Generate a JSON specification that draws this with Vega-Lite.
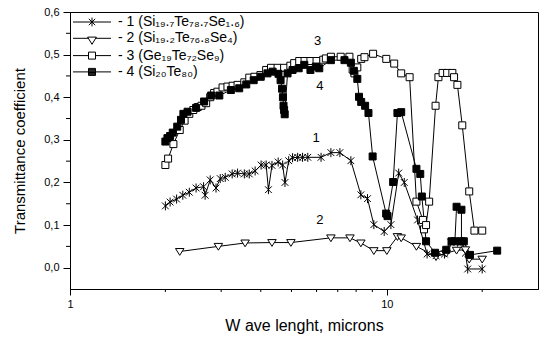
{
  "$schema": "https://vega.github.io/schema/vega-lite/v6.json",
  "width": 468,
  "height": 277,
  "autosize": "none",
  "padding": {"left": 70, "top": 12, "right": 1, "bottom": 49},
  "background": "white",
  "config": {
    "view": {"stroke": "black", "strokeWidth": 1},
    "font": "Liberation Sans",
    "axis": {"domainColor": "black", "tickColor": "black", "labelColor": "black", "titleColor": "black", "grid": false, "labelFont": "Liberation Sans", "titleFont": "Liberation Sans", "titleFontWeight": "normal", "domainWidth": 1, "tickWidth": 1}
  },
  "resolve": {"scale": {"shape": "independent"}, "legend": {"shape": "independent"}},
  "datasets": {
    "pts": [
      {"s":"1","i":0,"x":2.0,"y":0.145},{"s":"1","i":1,"x":2.07,"y":0.154},{"s":"1","i":2,"x":2.17,"y":0.161},{"s":"1","i":3,"x":2.27,"y":0.17},{"s":"1","i":4,"x":2.38,"y":0.177},{"s":"1","i":5,"x":2.5,"y":0.187},{"s":"1","i":6,"x":2.64,"y":0.19},{"s":"1","i":7,"x":2.67,"y":0.17},{"s":"1","i":8,"x":2.77,"y":0.206},{"s":"1","i":9,"x":2.89,"y":0.187},{"s":"1","i":10,"x":2.98,"y":0.209},{"s":"1","i":11,"x":3.09,"y":0.212},{"s":"1","i":12,"x":3.25,"y":0.22},{"s":"1","i":13,"x":3.38,"y":0.222},{"s":"1","i":14,"x":3.55,"y":0.22},{"s":"1","i":15,"x":3.68,"y":0.22},{"s":"1","i":16,"x":3.84,"y":0.227},{"s":"1","i":17,"x":4.01,"y":0.241},{"s":"1","i":18,"x":4.16,"y":0.241},{"s":"1","i":19,"x":4.23,"y":0.183},{"s":"1","i":20,"x":4.34,"y":0.24},{"s":"1","i":21,"x":4.54,"y":0.248},{"s":"1","i":22,"x":4.69,"y":0.241},{"s":"1","i":23,"x":4.77,"y":0.2},{"s":"1","i":24,"x":4.9,"y":0.251},{"s":"1","i":25,"x":5.04,"y":0.258},{"s":"1","i":26,"x":5.23,"y":0.259},{"s":"1","i":27,"x":5.42,"y":0.259},{"s":"1","i":28,"x":5.63,"y":0.259},{"s":"1","i":29,"x":6.2,"y":0.259},{"s":"1","i":30,"x":6.66,"y":0.27},{"s":"1","i":31,"x":7.11,"y":0.27},{"s":"1","i":32,"x":7.7,"y":0.251},{"s":"1","i":33,"x":8.28,"y":0.171},{"s":"1","i":34,"x":8.69,"y":0.162},{"s":"1","i":35,"x":9.1,"y":0.101},{"s":"1","i":36,"x":9.81,"y":0.085},{"s":"1","i":37,"x":10.3,"y":0.101},{"s":"1","i":38,"x":10.9,"y":0.222},{"s":"1","i":39,"x":11.35,"y":0.2},{"s":"1","i":40,"x":12.5,"y":0.112},{"s":"1","i":41,"x":13.4,"y":0.032},{"s":"1","i":42,"x":14.3,"y":0.028},{"s":"1","i":43,"x":15.2,"y":0.032},{"s":"1","i":44,"x":15.9,"y":0.06},{"s":"1","i":45,"x":16.7,"y":0.06},{"s":"1","i":46,"x":17.3,"y":0.06},{"s":"1","i":47,"x":17.7,"y":0.034},{"s":"1","i":48,"x":18.0,"y":-0.003},{"s":"1","i":49,"x":20.0,"y":-0.003},
      {"s":"2","i":0,"x":2.22,"y":0.038},{"s":"2","i":1,"x":2.94,"y":0.05},{"s":"2","i":2,"x":3.57,"y":0.058},{"s":"2","i":3,"x":4.34,"y":0.059},{"s":"2","i":4,"x":4.98,"y":0.059},{"s":"2","i":5,"x":6.66,"y":0.07},{"s":"2","i":6,"x":7.65,"y":0.07},{"s":"2","i":7,"x":8.28,"y":0.058},{"s":"2","i":8,"x":9.1,"y":0.04},{"s":"2","i":9,"x":10.0,"y":0.04},{"s":"2","i":10,"x":10.8,"y":0.073},{"s":"2","i":11,"x":11.1,"y":0.07},{"s":"2","i":12,"x":12.4,"y":0.05},{"s":"2","i":13,"x":14.3,"y":0.026},{"s":"2","i":14,"x":15.4,"y":0.034},{"s":"2","i":15,"x":16.6,"y":0.041},{"s":"2","i":16,"x":17.7,"y":0.042},{"s":"2","i":17,"x":18.2,"y":0.02},{"s":"2","i":18,"x":20.0,"y":0.02},
      {"s":"3","i":0,"x":2.0,"y":0.241},{"s":"3","i":1,"x":2.04,"y":0.256},{"s":"3","i":2,"x":2.12,"y":0.29},{"s":"3","i":3,"x":2.22,"y":0.323},{"s":"3","i":4,"x":2.3,"y":0.345},{"s":"3","i":5,"x":2.38,"y":0.361},{"s":"3","i":6,"x":2.45,"y":0.37},{"s":"3","i":7,"x":2.53,"y":0.377},{"s":"3","i":8,"x":2.6,"y":0.38},{"s":"3","i":9,"x":2.69,"y":0.386},{"s":"3","i":10,"x":2.77,"y":0.4},{"s":"3","i":11,"x":2.85,"y":0.41},{"s":"3","i":12,"x":2.92,"y":0.413},{"s":"3","i":13,"x":3.03,"y":0.423},{"s":"3","i":14,"x":3.14,"y":0.425},{"s":"3","i":15,"x":3.26,"y":0.427},{"s":"3","i":16,"x":3.38,"y":0.429},{"s":"3","i":17,"x":3.55,"y":0.435},{"s":"3","i":18,"x":3.68,"y":0.446},{"s":"3","i":19,"x":3.82,"y":0.448},{"s":"3","i":20,"x":3.99,"y":0.452},{"s":"3","i":21,"x":4.16,"y":0.464},{"s":"3","i":22,"x":4.31,"y":0.469},{"s":"3","i":23,"x":4.52,"y":0.469},{"s":"3","i":24,"x":4.74,"y":0.469},{"s":"3","i":25,"x":4.96,"y":0.474},{"s":"3","i":26,"x":5.1,"y":0.48},{"s":"3","i":27,"x":5.29,"y":0.485},{"s":"3","i":28,"x":5.5,"y":0.485},{"s":"3","i":29,"x":5.74,"y":0.485},{"s":"3","i":30,"x":6.0,"y":0.485},{"s":"3","i":31,"x":6.3,"y":0.488},{"s":"3","i":32,"x":6.42,"y":0.491},{"s":"3","i":33,"x":6.66,"y":0.495},{"s":"3","i":34,"x":7.15,"y":0.495},{"s":"3","i":35,"x":7.62,"y":0.495},{"s":"3","i":36,"x":7.8,"y":0.465},{"s":"3","i":37,"x":7.9,"y":0.456},{"s":"3","i":38,"x":8.07,"y":0.47},{"s":"3","i":39,"x":8.3,"y":0.49},{"s":"3","i":40,"x":8.5,"y":0.494},{"s":"3","i":41,"x":9.05,"y":0.502},{"s":"3","i":42,"x":9.96,"y":0.49},{"s":"3","i":43,"x":10.55,"y":0.479},{"s":"3","i":44,"x":11.1,"y":0.456},{"s":"3","i":45,"x":11.8,"y":0.447},{"s":"3","i":46,"x":12.4,"y":0.155},{"s":"3","i":47,"x":13.0,"y":0.112},{"s":"3","i":48,"x":13.1,"y":0.09},{"s":"3","i":49,"x":13.3,"y":0.1},{"s":"3","i":50,"x":13.6,"y":0.155},{"s":"3","i":51,"x":14.25,"y":0.38},{"s":"3","i":52,"x":14.55,"y":0.447},{"s":"3","i":53,"x":15.0,"y":0.457},{"s":"3","i":54,"x":15.5,"y":0.457},{"s":"3","i":55,"x":16.1,"y":0.457},{"s":"3","i":56,"x":16.3,"y":0.447},{"s":"3","i":57,"x":16.7,"y":0.429},{"s":"3","i":58,"x":17.3,"y":0.334},{"s":"3","i":59,"x":18.2,"y":0.179},{"s":"3","i":60,"x":18.9,"y":0.087},{"s":"3","i":61,"x":20.0,"y":0.087},
      {"s":"4","i":0,"x":2.0,"y":0.296},{"s":"4","i":1,"x":2.03,"y":0.304},{"s":"4","i":2,"x":2.07,"y":0.309},{"s":"4","i":3,"x":2.11,"y":0.317},{"s":"4","i":4,"x":2.18,"y":0.331},{"s":"4","i":5,"x":2.24,"y":0.347},{"s":"4","i":6,"x":2.28,"y":0.361},{"s":"4","i":7,"x":2.35,"y":0.366},{"s":"4","i":8,"x":2.5,"y":0.375},{"s":"4","i":9,"x":2.65,"y":0.39},{"s":"4","i":10,"x":2.79,"y":0.404},{"s":"4","i":11,"x":2.96,"y":0.404},{"s":"4","i":12,"x":3.22,"y":0.417},{"s":"4","i":13,"x":3.42,"y":0.421},{"s":"4","i":14,"x":3.6,"y":0.43},{"s":"4","i":15,"x":3.8,"y":0.44},{"s":"4","i":16,"x":4.0,"y":0.448},{"s":"4","i":17,"x":4.2,"y":0.456},{"s":"4","i":18,"x":4.36,"y":0.46},{"s":"4","i":19,"x":4.55,"y":0.455},{"s":"4","i":20,"x":4.62,"y":0.44},{"s":"4","i":21,"x":4.67,"y":0.42},{"s":"4","i":22,"x":4.7,"y":0.4},{"s":"4","i":23,"x":4.72,"y":0.38},{"s":"4","i":24,"x":4.74,"y":0.37},{"s":"4","i":25,"x":4.76,"y":0.36},{"s":"4","i":26,"x":4.86,"y":0.456},{"s":"4","i":27,"x":5.04,"y":0.464},{"s":"4","i":28,"x":5.27,"y":0.468},{"s":"4","i":29,"x":5.49,"y":0.476},{"s":"4","i":30,"x":5.74,"y":0.464},{"s":"4","i":31,"x":5.97,"y":0.472},{"s":"4","i":32,"x":6.12,"y":0.468},{"s":"4","i":33,"x":6.66,"y":0.487},{"s":"4","i":34,"x":7.35,"y":0.487},{"s":"4","i":35,"x":7.7,"y":0.481},{"s":"4","i":36,"x":7.87,"y":0.462},{"s":"4","i":37,"x":8.07,"y":0.443},{"s":"4","i":38,"x":8.17,"y":0.401},{"s":"4","i":39,"x":8.3,"y":0.389},{"s":"4","i":40,"x":8.54,"y":0.38},{"s":"4","i":41,"x":8.75,"y":0.363},{"s":"4","i":42,"x":9.02,"y":0.261},{"s":"4","i":43,"x":9.95,"y":0.127},{"s":"4","i":44,"x":10.05,"y":0.121},{"s":"4","i":45,"x":10.47,"y":0.201},{"s":"4","i":46,"x":10.8,"y":0.363},{"s":"4","i":47,"x":11.1,"y":0.365},{"s":"4","i":48,"x":12.4,"y":0.232},{"s":"4","i":49,"x":12.75,"y":0.22},{"s":"4","i":50,"x":12.9,"y":0.167},{"s":"4","i":51,"x":13.3,"y":0.062},{"s":"4","i":52,"x":14.2,"y":0.035},{"s":"4","i":53,"x":15.4,"y":0.042},{"s":"4","i":54,"x":16.0,"y":0.062},{"s":"4","i":55,"x":16.4,"y":0.062},{"s":"4","i":56,"x":16.6,"y":0.143},{"s":"4","i":57,"x":17.2,"y":0.136},{"s":"4","i":58,"x":17.2,"y":0.062},{"s":"4","i":59,"x":17.5,"y":0.062},{"s":"4","i":60,"x":18.3,"y":0.03},{"s":"4","i":61,"x":22.3,"y":0.04}
    ],
    "lab": [
      {"x": 6.05, "y": 0.533, "t": "3"},
      {"x": 6.15, "y": 0.427, "t": "4"},
      {"x": 5.98, "y": 0.304, "t": "1"},
      {"x": 6.15, "y": 0.112, "t": "2"}
    ],
    "key": [
      {"s": "1", "x": 0.5, "y": 0.3},
      {"s": "2", "x": 0.5, "y": 0.3},
      {"s": "3", "x": 0.5, "y": 0.3},
      {"s": "4", "x": 0.5, "y": 0.3}
    ],
    "minory": [
      {"x": 1, "y": 0.05}, {"x": 1, "y": 0.15}, {"x": 1, "y": 0.25}, {"x": 1, "y": 0.35}, {"x": 1, "y": 0.45}, {"x": 1, "y": 0.55}
    ],
    "minorx": [
      {"x": 2, "y": -0.05}, {"x": 3, "y": -0.05}, {"x": 4, "y": -0.05}, {"x": 5, "y": -0.05}, {"x": 6, "y": -0.05}, {"x": 7, "y": -0.05}, {"x": 8, "y": -0.05}, {"x": 9, "y": -0.05}, {"x": 20, "y": -0.05}
    ]
  },
  "layer": [
    {
      "data": {"name": "pts"},
      "mark": {"type": "line", "color": "black", "strokeWidth": 1, "clip": true},
      "encoding": {
        "x": {"field": "x", "type": "quantitative", "scale": {"type": "log", "domain": [1, 30], "nice": false},
          "title": "W ave lenght, microns",
          "axis": {"values": [1, 10], "labelExpr": "datum.value == 1 ? '1' : '10'", "labelFontSize": 11, "labelPadding": 3, "tickSize": 6, "titleFontSize": 16, "titlePadding": 8, "labelFlush": false}},
        "y": {"field": "y", "type": "quantitative", "scale": {"domain": [-0.05, 0.6], "nice": false, "zero": false},
          "title": "Transmittance coefficient",
          "axis": {"values": [0, 0.1, 0.2, 0.3, 0.4, 0.5, 0.6], "labelExpr": "replace(format(datum.value, '.1f'), '.', ',')", "labelFontSize": 11, "labelPadding": 4, "tickSize": 7, "titleFontSize": 15, "titlePadding": 16, "labelFlush": false}},
        "detail": {"field": "s"},
        "order": {"field": "i", "type": "quantitative"}
      }
    },
    {
      "data": {"name": "minory"},
      "mark": {"type": "tick", "orient": "horizontal", "size": 4, "thickness": 1, "color": "black", "opacity": 1, "xOffset": -2, "clip": false},
      "encoding": {
        "x": {"field": "x", "type": "quantitative"},
        "y": {"field": "y", "type": "quantitative"}
      }
    },
    {
      "data": {"name": "minorx"},
      "mark": {"type": "tick", "orient": "vertical", "size": 3, "thickness": 1, "color": "black", "opacity": 1, "yOffset": 1.5, "clip": false},
      "encoding": {
        "x": {"field": "x", "type": "quantitative"},
        "y": {"field": "y", "type": "quantitative"}
      }
    },
    {
      "data": {"name": "pts"},
      "mark": {"type": "point", "filled": true, "stroke": "black", "strokeWidth": 1, "opacity": 1, "clip": true},
      "encoding": {
        "x": {"field": "x", "type": "quantitative"},
        "y": {"field": "y", "type": "quantitative"},
        "shape": {"field": "s", "type": "nominal",
          "scale": {"domain": ["1","2","3","4"], "range": ["M0,-1V1M-0.75,-0.75L0.75,0.75M-0.75,0.75L0.75,-0.75", "M-1,-0.7H1L0,0.9Z", "M-1,-1H1V1H-1Z", "M-1,-1H1V1H-1Z"]},
          "legend": null},
        "fill": {"condition": {"test": "datum.s == '4'", "value": "black"}, "value": "white"},
        "size": {"condition": [{"test": "datum.s == '1'", "value": 81}, {"test": "datum.s == '2'", "value": 72}], "value": 49}
      }
    },
    {
      "data": {"name": "key"},
      "mark": {"type": "point", "filled": false, "color": "black", "strokeWidth": 1, "opacity": 1, "size": 64, "clip": true},
      "encoding": {
        "x": {"field": "x", "type": "quantitative"},
        "y": {"field": "y", "type": "quantitative"},
        "shape": {"field": "s", "type": "nominal",
          "scale": {"domain": ["1","2","3","4"], "range": ["M-4.75,0H4.75M0,-1.1V1.1M-0.8,-0.8L0.8,0.8M-0.8,0.8L0.8,-0.8", "M-4.75,0H-0.85M0.85,0H4.75M-1.1,-0.3H1.1L0,1.5Z", "M-4.75,0H-0.875M0.875,0H4.75M-0.875,-0.875H0.875V0.875H-0.875Z", "M-4.75,0H-0.875M0.875,0H4.75M-0.875,-0.875H0.875V0.875H-0.875ZM-0.875,-0.65H0.875M-0.875,-0.45H0.875M-0.875,-0.25H0.875M-0.875,-0.05H0.875M-0.875,0.15H0.875M-0.875,0.35H0.875M-0.875,0.55H0.875M-0.875,0.75H0.875"]},
          "legend": {"orient": "none", "legendX": 15, "legendY": 3, "title": null, "padding": 0, "labelFontSize": 14, "labelFont": "Liberation Sans", "labelColor": "black", "labelOffset": 19, "rowPadding": 2.3, "symbolSize": 64, "symbolStrokeWidth": 1, "symbolStrokeColor": "black",
            "labelExpr": "datum.value == '1' ? '- 1 (Si₁₉.₇Te₇₈.₇Se₁.₆)' : datum.value == '2' ? '- 2 (Si₁₉.₂Te₇₆.₈Se₄)' : datum.value == '3' ? '- 3 (Ge₁₉Te₇₂Se₉)' : '- 4 (Si₂₀Te₈₀)'"}}
      }
    },
    {
      "data": {"name": "lab"},
      "mark": {"type": "text", "fontSize": 13, "font": "Liberation Sans", "fill": "black", "align": "center", "baseline": "middle"},
      "encoding": {
        "x": {"field": "x", "type": "quantitative"},
        "y": {"field": "y", "type": "quantitative"},
        "text": {"field": "t"}
      }
    }
  ]
}
